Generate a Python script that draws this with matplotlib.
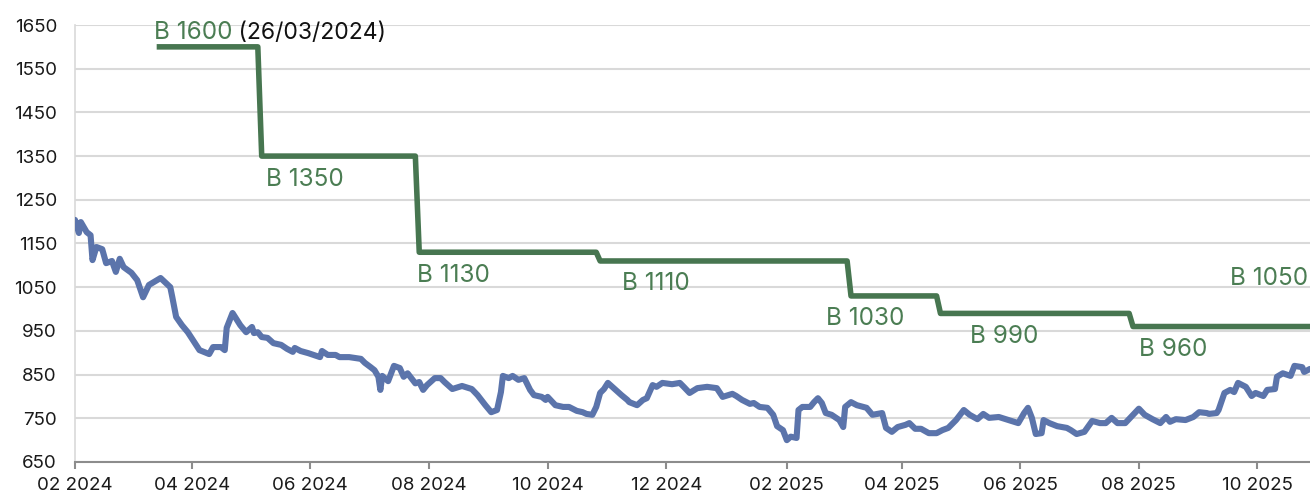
import matplotlib
matplotlib.use("Agg")
import matplotlib.pyplot as plt
import matplotlib.dates as mdates
import pandas as pd

plt.rcParams['font.family'] = ['Inter', 'DejaVu Sans']

# cours (ligne bleue)
price_dates = [
    "2024-02-01", "2024-02-03", "2024-02-04", "2024-02-07", "2024-02-09", "2024-02-10",
    "2024-02-12", "2024-02-15", "2024-02-17", "2024-02-20", "2024-02-22", "2024-02-24",
    "2024-02-26", "2024-03-01", "2024-03-04", "2024-03-07", "2024-03-10", "2024-03-16",
    "2024-03-21", "2024-03-22", "2024-03-24", "2024-03-27", "2024-03-30", "2024-04-05",
    "2024-04-10", "2024-04-12", "2024-04-16", "2024-04-18", "2024-04-19", "2024-04-22",
    "2024-04-26", "2024-04-29", "2024-05-02", "2024-05-03", "2024-05-05", "2024-05-07",
    "2024-05-10", "2024-05-13", "2024-05-17", "2024-05-20", "2024-05-23", "2024-05-24",
    "2024-05-27", "2024-05-31", "2024-06-06", "2024-06-07", "2024-06-10", "2024-06-14",
    "2024-06-16", "2024-06-21", "2024-06-27", "2024-06-29", "2024-07-02", "2024-07-04",
    "2024-07-06", "2024-07-07", "2024-07-08", "2024-07-11", "2024-07-14", "2024-07-17",
    "2024-07-19", "2024-07-21", "2024-07-25", "2024-07-27", "2024-07-29", "2024-07-31",
    "2024-08-04", "2024-08-07", "2024-08-09", "2024-08-13", "2024-08-18", "2024-08-23",
    "2024-08-26", "2024-08-30", "2024-09-02", "2024-09-05", "2024-09-07", "2024-09-08",
    "2024-09-11", "2024-09-13", "2024-09-16", "2024-09-19", "2024-09-22", "2024-09-24",
    "2024-09-28", "2024-09-30", "2024-10-01", "2024-10-05", "2024-10-09", "2024-10-12",
    "2024-10-16", "2024-10-19", "2024-10-21", "2024-10-24", "2024-10-26", "2024-10-28",
    "2024-10-30", "2024-11-01", "2024-11-04", "2024-11-08", "2024-11-11", "2024-11-12",
    "2024-11-16", "2024-11-19", "2024-11-21", "2024-11-24", "2024-11-26", "2024-11-29",
    "2024-12-04", "2024-12-08", "2024-12-10", "2024-12-13", "2024-12-17", "2024-12-22",
    "2024-12-27", "2024-12-30", "2025-01-04", "2025-01-06", "2025-01-09", "2025-01-13",
    "2025-01-15", "2025-01-18", "2025-01-22", "2025-01-25", "2025-01-27", "2025-01-30",
    "2025-02-01", "2025-02-03", "2025-02-06", "2025-02-07", "2025-02-09", "2025-02-13",
    "2025-02-15", "2025-02-17", "2025-02-19", "2025-02-21", "2025-02-24", "2025-02-28",
    "2025-03-02", "2025-03-03", "2025-03-06", "2025-03-09", "2025-03-14", "2025-03-17",
    "2025-03-22", "2025-03-24", "2025-03-27", "2025-03-30", "2025-04-03", "2025-04-05",
    "2025-04-08", "2025-04-11", "2025-04-15", "2025-04-19", "2025-04-22", "2025-04-25",
    "2025-04-29", "2025-05-03", "2025-05-06", "2025-05-08", "2025-05-10", "2025-05-13",
    "2025-05-16", "2025-05-21", "2025-05-26", "2025-05-31", "2025-06-03", "2025-06-05",
    "2025-06-07", "2025-06-09", "2025-06-12", "2025-06-13", "2025-06-16", "2025-06-20",
    "2025-06-25", "2025-06-27", "2025-06-30", "2025-07-04", "2025-07-08", "2025-07-12",
    "2025-07-15", "2025-07-18", "2025-07-21", "2025-07-25", "2025-07-28", "2025-08-01",
    "2025-08-04", "2025-08-08", "2025-08-12", "2025-08-15", "2025-08-17", "2025-08-20",
    "2025-08-25", "2025-08-29", "2025-09-01", "2025-09-05", "2025-09-06", "2025-09-10",
    "2025-09-11", "2025-09-14", "2025-09-17", "2025-09-19", "2025-09-21", "2025-09-25",
    "2025-09-28", "2025-09-30", "2025-10-04", "2025-10-06", "2025-10-10", "2025-10-11",
    "2025-10-14", "2025-10-18", "2025-10-20", "2025-10-24", "2025-10-25", "2025-10-28",
]
price_values = [
    1204, 1174, 1199, 1176, 1169, 1112,
    1142, 1137, 1105, 1110, 1085, 1115,
    1096, 1083, 1066, 1027, 1055, 1071,
    1050, 1028, 982, 963, 947, 906,
    897, 913, 913, 906, 957, 991,
    963, 947, 959, 945, 947, 936,
    934, 922, 918, 909, 902, 911,
    904, 899, 890, 904, 895, 895,
    890, 890, 886, 877, 867, 860,
    845, 815, 847, 835, 870, 865,
    845, 853, 830, 833, 815, 826,
    842, 842, 833, 817, 824, 817,
    803, 780, 764, 769, 810, 847,
    842, 847, 838, 842, 815, 803,
    799, 792, 799, 780, 776, 776,
    767, 764, 760, 758, 776, 808,
    817, 831, 819, 803, 792, 787,
    780, 792, 796, 826, 822, 831,
    828, 831, 822, 808, 819, 822,
    819, 799, 806, 801, 792, 783,
    785, 776, 774, 758, 732, 723,
    700, 708, 705, 769, 776, 776,
    787, 796, 785, 762, 758, 746,
    730, 776, 787, 780, 774, 758,
    762, 728, 719, 730, 735, 739,
    726, 726, 716, 716, 723, 728,
    746, 769, 758, 753, 748, 760,
    751, 753, 746, 739, 762, 774,
    751, 714, 716, 746, 739, 732,
    728, 723, 714, 719, 744, 739,
    739, 751, 739, 739, 753, 772,
    758, 748, 739, 753, 742, 748,
    746, 753, 764, 762, 760, 762,
    769, 808, 815, 810, 831, 822,
    801, 808, 801, 815, 817, 845,
    853, 847, 870, 867, 856, 863,
]

# objectif (ligne verte en escalier)
target_dates = [
    "2024-03-14", "2024-05-05", "2024-05-07", "2024-07-25", "2024-07-27",
    "2024-10-26", "2024-10-28", "2025-03-04", "2025-03-06", "2025-04-19",
    "2025-04-21", "2025-07-27", "2025-07-29", "2025-10-28",
]
target_values = [1600, 1600, 1350, 1350, 1130, 1130, 1110, 1110, 1030, 1030,
                 990, 990, 960, 960]

label_texts = ["B 1350", "B 1130", "B 1110", "B 1030", "B 990", "B 960"]
label_dates = ["2024-05-09", "2024-07-26", "2024-11-08", "2025-02-21", "2025-05-06", "2025-08-01"]
label_levels = [1350, 1130, 1110, 1030, 990, 960]

BLUE = "#5b74ab"
GREEN = "#477650"
GREEN_TXT = "#4b7d53"

fig = plt.figure(figsize=(13.1, 4.95), dpi=100)
ax = fig.add_axes([75 / 1310, 33 / 495, 1235 / 1310, 437 / 495])

px = pd.to_datetime(price_dates)
tx = pd.to_datetime(target_dates)

ax.plot(px, price_values, color=BLUE, lw=4.4, solid_joinstyle='round',
        solid_capstyle='round', zorder=3)
ax.plot(tx, target_values, color=GREEN, lw=4.0, solid_joinstyle='round',
        solid_capstyle='butt', zorder=3)

# étiquettes
t1 = ax.annotate("B 1600", xy=(tx[0], 1600), xytext=(-2, 2), textcoords='offset points',
                 ha='left', va='bottom', color=GREEN_TXT, fontsize=17.5)
ax.annotate(" (26/03/2024)", xy=(1, 0), xycoords=t1, ha='left', va='bottom',
            color='#111111', fontsize=16.5)
for txt, d, lv in zip(label_texts, label_dates, label_levels):
    ax.annotate(txt, xy=(pd.Timestamp(d), lv), xytext=(0, -16.5), textcoords='offset points',
                ha='left', va='center', color=GREEN_TXT, fontsize=17.5)
ax.annotate("B 1050", xy=(pd.Timestamp("2025-10-28"), 1050), xytext=(-1, 6),
            textcoords='offset points', ha='right', va='center', color=GREEN_TXT,
            fontsize=17.5)

ax.set_ylim(650, 1650)
ax.set_yticks(range(650, 1651, 100))
ax.set_xlim(pd.Timestamp("2024-02-01"), pd.Timestamp("2025-10-28"))
ax.xaxis.set_major_locator(mdates.MonthLocator(bymonth=[2, 4, 6, 8, 10, 12]))
ax.xaxis.set_major_formatter(mdates.DateFormatter('%m %Y'))

ax.grid(axis='y', color='#d9d9d9', lw=1.5)
ax.set_axisbelow(True)
for s in ['top', 'right']:
    ax.spines[s].set_visible(False)
ax.spines['left'].set_color('#d9d9d9')
ax.spines['left'].set_linewidth(1.2)
ax.spines['bottom'].set_color('#8c8c8c')
ax.spines['bottom'].set_linewidth(1.5)

ax.tick_params(axis='y', length=0, pad=13, labelsize=13.5, labelcolor='#1a1a1a')
ax.tick_params(axis='x', length=5, width=1.5, color='#8c8c8c', pad=6,
               labelsize=13.5, labelcolor='#1a1a1a')

fig.savefig('out.png', dpi=100)
